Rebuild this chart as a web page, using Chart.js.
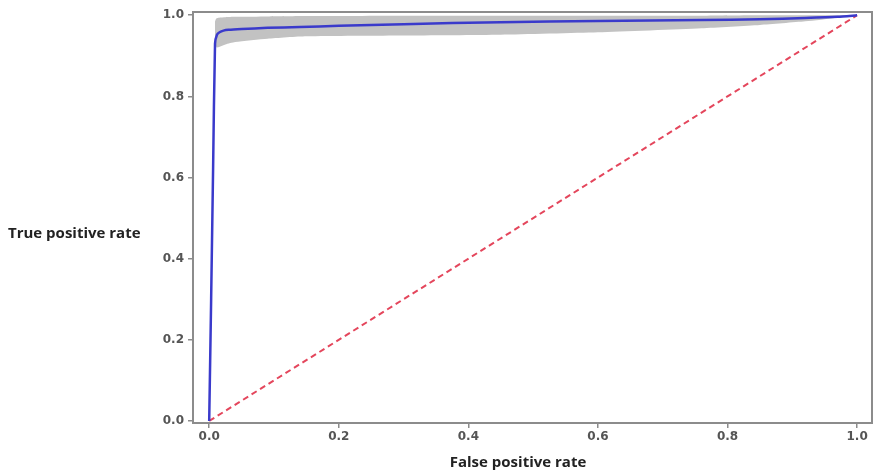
<!DOCTYPE html>
<html>
<head>
<meta charset="utf-8">
<script src="https://cdn.jsdelivr.net/npm/chart.js@4/dist/chart.umd.min.js"></script>
<style>
  html, body { margin: 0; padding: 0; background: #fff; }
  #wrap { width: 876px; height: 473px; position: relative; }
</style>
</head>
<body>
<div id="wrap"><canvas id="roc"></canvas></div>
<script>
// ROC curve (mean)
const rocFpr = [0, 0.003, 0.006, 0.009, 0.012, 0.016, 0.022, 0.03, 0.05, 0.09, 0.14, 0.2, 0.3, 0.45, 0.6, 0.76, 0.85, 0.92, 0.97, 1.0];
const rocTpr = [0, 0.3, 0.62, 0.93, 0.952, 0.958, 0.962, 0.964, 0.966, 0.969, 0.971, 0.974, 0.978, 0.983, 0.986, 0.988, 0.99, 0.993, 0.996, 1.0];

// grey spread around the curve
const bandFpr = [0.009, 0.011, 0.015, 0.025, 0.04, 0.09, 0.15, 0.3, 0.45, 0.6, 0.76, 0.85, 0.92, 0.97, 1.0];
const bandUpper = [0.985, 0.992, 0.994, 0.995, 0.996, 0.997, 0.998, 0.999, 0.999, 0.999, 0.999, 1.0, 1.0, 1.0, 1.0];
const bandLower = [0.95, 0.921, 0.922, 0.928, 0.934, 0.942, 0.948, 0.95, 0.952, 0.958, 0.968, 0.976, 0.985, 0.994, 1.0];

// chance line
const chanceFpr = [0, 1];
const chanceTpr = [0, 1];

const xTicks = [0, 0.2, 0.4, 0.6, 0.8, 1.0];
const yTicks = [0, 0.2, 0.4, 0.6, 0.8, 1.0];

const xTitle = 'False positive rate';
const yTitle = 'True positive rate';

const toPoints = (xs, ys) => xs.map((x, i) => ({ x, y: ys[i] }));

const frameAndTitles = {
  id: 'frameAndTitles',
  afterDraw(chart) {
    const { ctx, chartArea } = chart;
    ctx.save();
    ctx.strokeStyle = '#8c8c8c';
    ctx.lineWidth = 2;
    ctx.strokeRect(chartArea.left, chartArea.top, chartArea.right - chartArea.left, chartArea.bottom - chartArea.top);

    ctx.fillStyle = '#222';
    ctx.font = 'bold 15px "Open Sans"';
    ctx.textBaseline = 'middle';
    ctx.textAlign = 'left';
    ctx.fillText(yTitle, 8, 234);
    ctx.textAlign = 'center';
    ctx.fillText(xTitle, 518, 463);
    ctx.restore();
  }
};

const tickFont = { family: 'DejaVu Sans', size: 12, weight: 'bold' };

new Chart(document.getElementById('roc'), {
  type: 'line',
  data: {
    datasets: [
      {
        label: 'ROC',
        data: toPoints(rocFpr, rocTpr),
        borderColor: '#3a3acb',
        borderWidth: 2.5,
        pointRadius: 0,
        tension: 0.2,
        fill: false
      },
      {
        label: 'Chance',
        data: toPoints(chanceFpr, chanceTpr),
        borderColor: '#e4465c',
        borderWidth: 2,
        borderDash: [6, 4],
        pointRadius: 0,
        fill: false
      },
      {
        label: 'Lower',
        data: toPoints(bandFpr, bandLower),
        borderWidth: 0,
        borderColor: 'rgba(0,0,0,0)',
        pointRadius: 0,
        tension: 0.2,
        fill: false
      },
      {
        label: 'Upper',
        data: toPoints(bandFpr, bandUpper),
        borderWidth: 0,
        borderColor: 'rgba(0,0,0,0)',
        backgroundColor: '#c2c2c2',
        pointRadius: 0,
        tension: 0.2,
        fill: '-1'
      }
    ]
  },
  options: {
    responsive: true,
    maintainAspectRatio: false,
    animation: false,
    layout: {
      padding: { top: 12, right: 4, left: 0, bottom: 0 }
    },
    plugins: {
      legend: { display: false },
      tooltip: { enabled: false }
    },
    scales: {
      x: {
        type: 'linear',
        min: -0.025,
        max: 1.023,
        afterBuildTicks: (scale) => { scale.ticks = xTicks.map((value) => ({ value })); },
        afterFit: (scale) => { scale.height = 50; },
        border: { display: false },
        grid: {
          drawOnChartArea: false,
          drawTicks: true,
          tickLength: 5,
          color: '#8c8c8c',
          lineWidth: 1.5
        },
        ticks: {
          color: '#555',
          font: tickFont,
          padding: 2,
          maxRotation: 0,
          callback: (v) => Number(v).toFixed(1)
        }
      },
      y: {
        type: 'linear',
        min: -0.005,
        max: 1.008,
        afterBuildTicks: (scale) => { scale.ticks = yTicks.map((value) => ({ value })); },
        afterFit: (scale) => { scale.width = 193; },
        border: { display: false },
        grid: {
          drawOnChartArea: false,
          drawTicks: true,
          tickLength: 5,
          color: '#8c8c8c',
          lineWidth: 1.5
        },
        ticks: {
          color: '#555',
          font: tickFont,
          padding: 4,
          callback: (v) => Number(v).toFixed(1)
        }
      }
    }
  },
  plugins: [frameAndTitles]
});
</script>
</body>
</html>
